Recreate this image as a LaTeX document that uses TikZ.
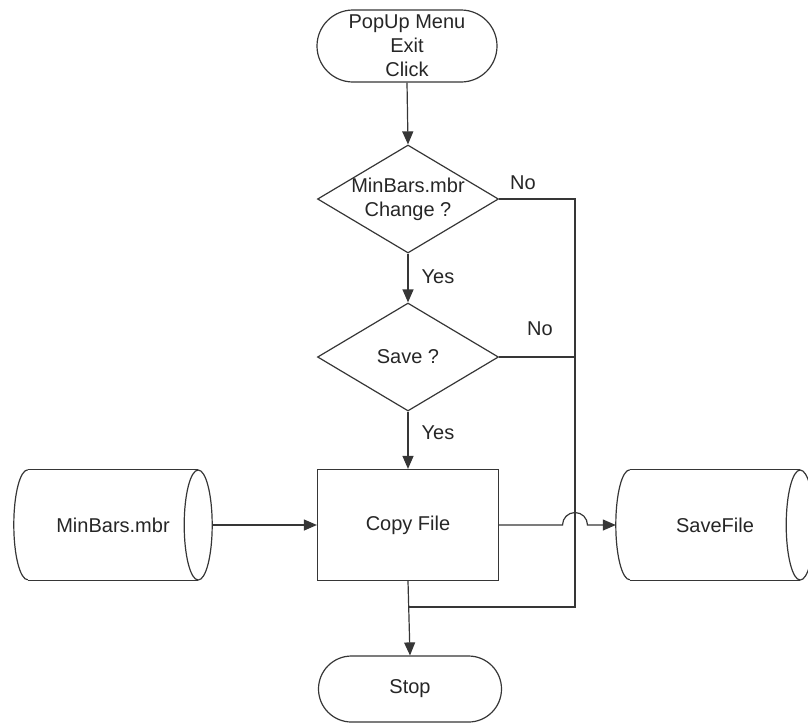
\documentclass[tikz,border=0pt]{standalone}
\usepackage{fontspec}
\setmainfont{Liberation Sans}
\usetikzlibrary{shapes.geometric,shapes.misc,arrows.meta}
\definecolor{ink}{HTML}{363636}
\definecolor{txt}{HTML}{262626}
\begin{document}
\begin{tikzpicture}[x=1pt,y=1pt,
  every node/.style={font=\fontsize{20}{24}\selectfont, text=txt, align=center},
  base/.style={draw=ink, line width=1.2pt},
  arr/.style={base, -{Triangle[length=13pt,width=11pt]}},
  terminal/.style={base, rounded rectangle, inner sep=0pt},
  decision/.style={base, diamond, inner sep=0pt, minimum width=181pt, minimum height=108pt},
  process/.style={base, rectangle, inner sep=0pt, minimum width=181pt, minimum height=111pt},
  storebody/.style={rectangle, inner sep=0pt, minimum width=170pt, minimum height=110pt}]
\useasboundingbox (0,0) rectangle (808,-724);
\clip (0,0) rectangle (808,-724);

% flow column
\node[terminal, minimum width=180pt, minimum height=72pt] (start) at (407,-46) {PopUp Menu\\Exit\\Click};
\node[decision] (d1) at (408,-199) {};
\node at (d1) {MinBars.mbr\\Change ?};
\node[decision] (d2) at (408,-357) {};
\node at (d2) {Save ?};
\node[process] (cf) at (408,-525) {Copy File};
\node[terminal, minimum width=183pt, minimum height=66pt] (stop) at (410,-689) {Stop};

% data stores
\node[storebody] (mb) at (113,-525) {MinBars.mbr};
\draw[base] (mb.north west) -- (mb.north east) (mb.south west) -- (mb.south east);
\draw[base] (mb.north west) arc (90:270:14pt and 55pt);
\draw[base] (mb.east) ellipse (14pt and 55pt);

\node[storebody] (sf) at (715,-525) {SaveFile};
\draw[base] (sf.north west) -- (sf.north east) (sf.south west) -- (sf.south east);
\draw[base] (sf.north west) arc (90:270:14pt and 55pt);
\draw[base] (sf.east) ellipse (14pt and 55pt);

% helper points of the "No" return line
\coordinate (rail) at (575,-607);
\coordinate (mrg) at (408,-607);
\coordinate (j) at (cf.east -| rail);

% connectors
\draw[arr] (start.south) -- (d1.north);
\draw[arr] (d1.south) -- (d2.north);
\draw[arr] (d2.south) -- (cf.north);
\draw[arr] (cf.south) -- (stop.north);
\draw[base] (d1.east) -| (rail) -- (mrg);
\draw[base] (d2.east) -- (d2.east -| rail);
\draw[arr] ([xshift=14pt]mb.east) -- (cf.west);
\draw[arr] (cf.east) -- ([xshift=-12.5pt]j) arc (180:0:12.5pt) -- ([xshift=-14pt]sf.west);

% branch labels
\node (no1) at (523,-183) {No};
\node (yes1) at (438,-277) {Yes};
\node (no2) at (540,-329) {No};
\node (yes2) at (438,-433) {Yes};
\end{tikzpicture}
\end{document}
